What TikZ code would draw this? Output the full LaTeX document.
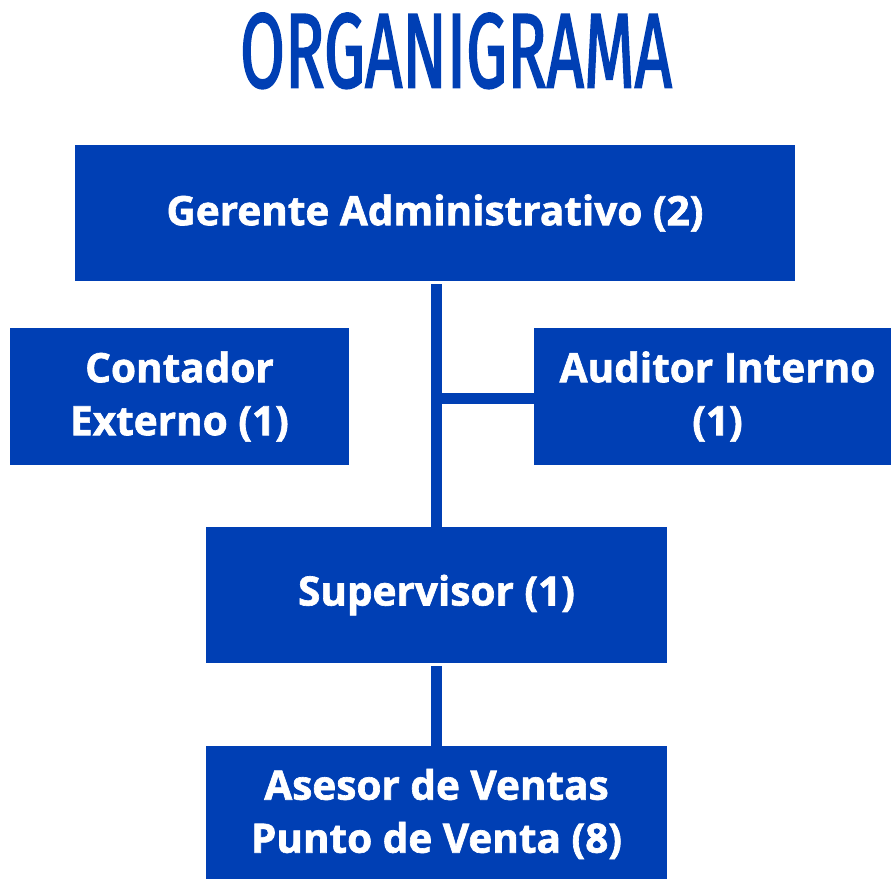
\documentclass[tikz,border=0pt]{standalone}
\usepackage{fontspec}
\setmainfont{Open Sans}[BoldFeatures={FakeBold=1.6}]
\newfontfamily\titlefont{Fira Sans}[FakeBold=2.2]
\usetikzlibrary{calc}
\definecolor{orgblue}{RGB}{0,63,180}
\begin{document}
\begin{tikzpicture}[x=1pt,y=-1pt,
  box/.style={fill=orgblue,draw=none,inner sep=0pt,text=white,align=center,
    font=\fontsize{40.5}{53}\selectfont\bfseries},
  link/.style={draw=orgblue,line width=11pt}]
\useasboundingbox (0,0) rectangle (891,878);
\clip (0,0) rectangle (891,878);
\node[text=orgblue,anchor=north,inner sep=0pt] (title) at (456,13)
  {\resizebox{432pt}{74pt}{\titlefont\fontsize{100}{100}\selectfont ORGANIGRAMA}};
\node[box,minimum width=720pt,minimum height=136pt] (g) at (435,213) {Gerente Administrativo (2)};
\node[box,minimum width=339pt,minimum height=137pt] (c) at (179.5,396.5) {Contador\\Externo (1)};
\node[box,minimum width=367pt,minimum height=137pt] (a) at (717.5,396.5) {Auditor Interno\\(1)};
\node[box,minimum width=461pt,minimum height=136pt] (s) at (436.5,595) {Supervisor (1)};
\node[box,minimum width=461pt,minimum height=136pt] (v) at (436.5,814) {Asesor de Ventas\\Punto de Venta (8)};
\draw[link] ($(s.north |- g.south)+(0,3)$) -- (s.north);
\draw[link] ($(s.north |- a.west)+(5.5,1.5)$) -- ($(a.west)+(0,1.5)$);
\draw[link] ($(s.south)+(0,3)$) -- (v.north);
\end{tikzpicture}
\end{document}
